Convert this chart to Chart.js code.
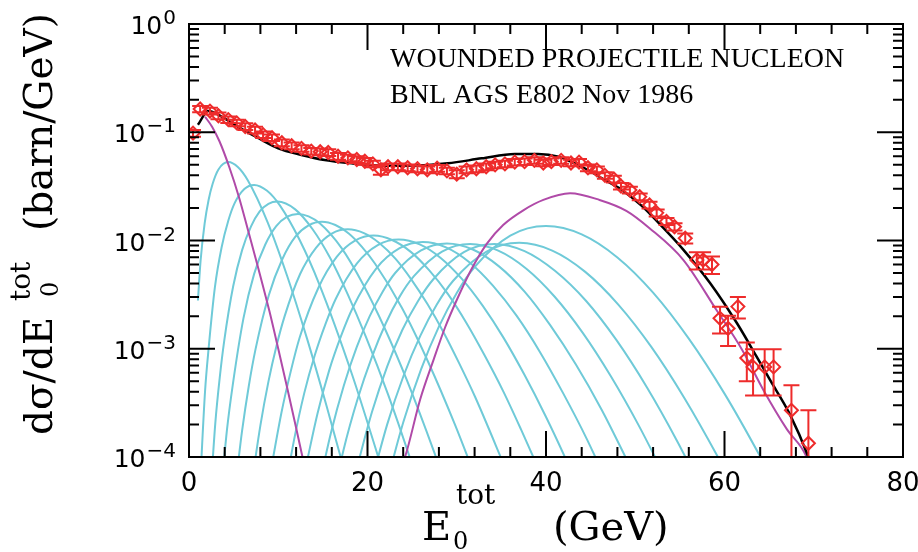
<!DOCTYPE html>
<html>
<head>
<meta charset="utf-8">
<script src="https://cdn.jsdelivr.net/npm/chart.js@4.4.1/dist/chart.umd.min.js"></script>
<style>
  html, body { margin: 0; padding: 0; background: #fff; }
</style>
</head>
<body>
<canvas id="chart" width="918" height="552"></canvas>
<script>
// measured points (E0 in GeV, dsigma/dE in barn/GeV)
const dataE = [0.45, 1.25, 2.35, 3.3, 4.4, 5.35, 6.3, 7.4, 8.3, 9.3, 10.4, 11.5, 12.6, 13.7, 14.7, 15.6, 16.7, 17.8, 18.8, 19.7,
  20.6, 21.5, 22.3, 23.4, 24.5, 25.6, 26.7, 27.8, 28.9, 30.0, 31.1, 32.2, 33.3, 34.3, 35.4, 36.5, 37.6, 38.7, 39.7, 40.6,
  41.7, 42.8, 43.7, 44.7, 45.7, 46.6, 47.6, 48.4, 49.4, 50.5, 51.6, 52.4, 53.5, 54.4, 55.6, 56.9, 57.6, 58.6, 59.5, 60.4,
  61.5, 62.5, 63.2, 64.5, 65.5, 67.5, 69.4];
const dataY = [0.098, 0.164, 0.157, 0.142, 0.131, 0.122, 0.113, 0.105, 0.095, 0.089, 0.080, 0.075, 0.071, 0.067, 0.066, 0.065, 0.060, 0.058, 0.056, 0.054,
  0.051, 0.045, 0.048, 0.048, 0.047, 0.046, 0.045, 0.0465, 0.044, 0.041, 0.045, 0.046, 0.048, 0.050, 0.051, 0.053, 0.0535, 0.055, 0.052, 0.0535,
  0.055, 0.052, 0.053, 0.047, 0.045, 0.040, 0.037, 0.0318, 0.0293, 0.0254, 0.0213, 0.0180, 0.0150, 0.0134, 0.0105, 0.0066, 0.0066, 0.0060, 0.00191, 0.00154,
  0.00245, 0.00082, 0.00068, 0.00068, 0.00068, 0.00027, 0.000134];
const dataErr = [0.007, 0.011, 0.011, 0.010, 0.009, 0.0085, 0.008, 0.0074, 0.0067, 0.0062, 0.0056, 0.0053, 0.005, 0.0047, 0.0046, 0.0046, 0.0042, 0.0041, 0.0039, 0.0038,
  0.0036, 0.0045, 0.0034, 0.0034, 0.0033, 0.0032, 0.0032, 0.0033, 0.0031, 0.0035, 0.0032, 0.0032, 0.0034, 0.0035, 0.0036, 0.0037, 0.0037, 0.0039, 0.0036, 0.0037,
  0.0039, 0.0036, 0.0037, 0.0033, 0.0032, 0.0028, 0.0026, 0.0022, 0.0021, 0.0018, 0.0015, 0.0013, 0.0011, 0.0010, 0.0011, 0.0012, 0.0012, 0.0011, 0.00053, 0.00048,
  0.00055, 0.00032, 0.00031, 0.00031, 0.00031, 0.00019, 0.000136];

// total fit (black)
const totE = [1.0, 2.15, 3.7, 5.5, 7.8, 10.0, 12.6, 15.2, 18.2, 22.0, 25.5, 29.0, 32.8, 36.5, 39.1, 41.4, 44.0, 46.6, 48.5, 50.7,
  52.8, 55.4, 58.4, 61.4, 63.6, 65.1, 67.3, 69.4, 69.8];
const totY = [0.117, 0.157, 0.139, 0.112, 0.088, 0.071, 0.0617, 0.0554, 0.0516, 0.0491, 0.0493, 0.0516, 0.0574, 0.063, 0.063, 0.0594, 0.048, 0.0362, 0.0293, 0.0210,
  0.0140, 0.0082, 0.00403, 0.00172, 8.45e-4, 5.15e-4, 2.5e-4, 1.0e-4, 8e-5];

// magenta components
const m1E = [1.8, 2.6, 3.4, 4.5, 5.6, 6.7, 7.8, 9.0, 10.0, 11.0, 12.0, 13.0];
const m1Y = [0.139, 0.112, 0.083, 0.048, 0.0251, 0.0117, 0.0054, 0.00224, 0.00100, 4.37e-4, 1.86e-4, 7.8e-5];
const m2E = [23.5, 24.2, 25.9, 27.4, 28.7, 30.0, 31.5, 33.4, 35.2, 37.5, 39.7, 42.7, 46.0, 49.0, 51.6, 55.4, 59.1, 62.0, 64.4, 67.0, 69.2, 69.8];
const m2Y = [7.5e-5, 1.0e-4, 3.4e-4, 7.9e-4, 1.58e-3, 2.82e-3, 5.15e-3, 9.4e-3, 1.39e-2, 1.91e-2, 2.37e-2, 2.73e-2, 2.37e-2, 1.88e-2, 1.30e-2, 6.6e-3, 2.28e-3, 9.7e-4, 4.1e-4, 1.8e-4, 1.0e-4, 7e-5];

// cyan components, one per number of wounded nucleons
const c1E = [1.0, 1.3, 1.75, 2.2, 2.65, 3.3, 4.4, 5.5, 6.6, 8.8, 11.0, 13.2, 15.4, 17.6];
const c1Y = [2.79e-3, 6.53e-3, 1.43e-2, 2.38e-2, 3.34e-2, 4.53e-2, 5.30e-2, 4.74e-2, 3.58e-2, 1.48e-2, 4.70e-3, 1.26e-3, 2.99e-4, 6.52e-5];
const c2E = [1.3, 1.8, 2.2, 2.9, 3.65, 4.4, 5.1, 6.2, 7.3, 8.75, 10.2, 12.4, 14.6, 18.25, 21.9];
const c2Y = [6.87e-5, 4.07e-4, 1.01e-3, 3.69e-3, 8.61e-3, 1.52e-2, 2.20e-2, 2.99e-2, 3.26e-2, 2.88e-2, 2.10e-2, 1.01e-2, 3.94e-3, 5.85e-4, 6.56e-5];
const c3E = [2.5, 2.95, 3.45, 3.95, 4.95, 5.95, 6.95, 7.9, 8.9, 9.9, 11.9, 13.85, 15.85, 17.8, 19.8, 22.3, 24.75, 27.2];
const c3Y = [6.0e-5, 2.07e-4, 5.47e-4, 1.19e-3, 3.78e-3, 8.15e-3, 1.35e-2, 1.85e-2, 2.18e-2, 2.29e-2, 1.94e-2, 1.27e-2, 6.81e-3, 3.16e-3, 1.30e-3, 3.79e-4, 9.84e-5, 2.32e-5];
const c4E = [3.65, 4.25, 4.9, 6.1, 7.3, 8.55, 9.75, 11.0, 12.2, 13.4, 14.65, 17.1, 19.5, 21.95, 24.4, 27.45, 30.5];
const c4Y = [5.33e-5, 1.77e-4, 4.62e-4, 1.91e-3, 4.92e-3, 9.18e-3, 1.35e-2, 1.66e-2, 1.76e-2, 1.67e-2, 1.44e-2, 8.49e-3, 3.94e-3, 1.53e-3, 5.15e-4, 1.12e-4, 2.13e-5];
const c5E = [5.2, 5.95, 6.7, 7.45, 8.95, 10.45, 11.9, 13.4, 14.9, 16.4, 17.9, 19.35, 20.85, 23.85, 26.8, 29.8, 32.8];
const c5Y = [5.4e-5, 1.75e-4, 4.53e-4, 9.86e-4, 3.14e-3, 6.71e-3, 1.08e-2, 1.38e-2, 1.49e-2, 1.39e-2, 1.16e-2, 8.78e-3, 6.10e-3, 2.39e-3, 7.55e-4, 1.99e-4, 4.58e-5];
const c6E = [7.1, 8.0, 8.9, 9.8, 10.7, 12.45, 14.25, 16.0, 17.8, 19.6, 21.35, 23.15, 24.9, 26.7, 28.5, 30.25, 32.05, 35.6];
const c6Y = [6.27e-5, 1.96e-4, 4.97e-4, 1.06e-3, 1.98e-3, 4.90e-3, 8.61e-3, 1.16e-2, 1.27e-2, 1.17e-2, 9.44e-3, 6.76e-3, 4.38e-3, 2.60e-3, 1.43e-3, 7.4e-4, 3.60e-4, 7.35e-5];
const c7E = [9.3, 10.35, 11.4, 12.4, 14.5, 16.55, 18.6, 20.7, 22.75, 24.85, 26.9, 29.0, 31.05, 33.1, 35.2, 37.25, 39.35];
const c7Y = [8.65e-5, 2.55e-4, 6.18e-4, 1.27e-3, 3.66e-3, 7.06e-3, 9.98e-3, 1.11e-2, 1.01e-2, 7.85e-3, 5.32e-3, 3.21e-3, 1.75e-3, 8.75e-4, 4.06e-4, 1.76e-4, 7.18e-5];
const c8E = [10.6, 11.75, 12.9, 14.1, 15.3, 16.45, 18.8, 21.15, 23.5, 25.85, 28.2, 30.55, 32.9, 35.25, 37.6, 39.95, 42.3, 44.65];
const c8Y = [4.13e-5, 1.41e-4, 3.85e-4, 8.75e-4, 1.70e-3, 2.90e-3, 6.12e-3, 9.06e-3, 1.02e-2, 9.20e-3, 6.90e-3, 4.44e-3, 2.50e-3, 1.26e-3, 5.71e-4, 2.39e-4, 9.25e-5, 3.34e-5];
const c9E = [13.1, 14.4, 15.7, 17.05, 18.35, 20.95, 23.6, 26.2, 28.8, 31.45, 34.05, 36.7, 39.3, 41.9, 44.55, 47.15];
const c9Y = [8.2e-5, 2.52e-4, 6.28e-4, 1.32e-3, 2.39e-3, 5.48e-3, 8.49e-3, 9.70e-3, 8.65e-3, 6.27e-3, 3.83e-3, 2.02e-3, 9.40e-4, 3.91e-4, 1.48e-4, 5.12e-5];
const c10E = [14.45, 15.9, 17.35, 18.8, 20.25, 21.7, 23.1, 26.0, 28.9, 31.8, 34.7, 37.6, 40.45, 43.35, 46.25, 49.1, 50.6];
const c10Y = [4.86e-5, 1.67e-4, 4.58e-4, 1.04e-3, 2.00e-3, 3.37e-3, 5.01e-3, 8.11e-3, 9.40e-3, 8.26e-3, 5.80e-3, 3.37e-3, 1.66e-3, 7.14e-4, 2.72e-4, 9.27e-5, 5.24e-5];
const c11E = [15.75, 17.3, 18.9, 20.5, 22.05, 23.6, 25.2, 28.35, 31.5, 34.65, 37.8, 40.95, 44.1, 47.25, 50.4, 53.55];
const c11Y = [2.99e-5, 1.15e-4, 3.45e-4, 8.41e-4, 1.72e-3, 3.03e-3, 4.68e-3, 7.91e-3, 9.29e-3, 8.07e-3, 5.49e-3, 3.04e-3, 1.41e-3, 5.60e-4, 1.95e-4, 6.05e-5];
const c12E = [18.8, 20.5, 22.2, 23.9, 25.65, 27.4, 30.8, 34.2, 37.6, 41.0, 44.5, 47.9, 51.3, 54.7, 58.1];
const c12Y = [7.9e-5, 2.60e-4, 6.85e-4, 1.49e-3, 2.75e-3, 4.41e-3, 7.80e-3, 9.29e-3, 7.98e-3, 5.25e-3, 2.76e-3, 1.20e-3, 4.41e-4, 1.40e-4, 3.93e-5];
const c13E = [20.35, 22.2, 24.05, 25.9, 27.75, 29.6, 33.3, 37.0, 40.7, 44.4, 48.1, 51.8, 55.5, 59.2, 61.05];
const c13Y = [5.47e-5, 1.99e-4, 5.66e-4, 1.31e-3, 2.55e-3, 4.25e-3, 7.87e-3, 9.51e-3, 8.07e-3, 5.13e-3, 2.56e-3, 1.04e-3, 3.51e-4, 1.02e-4, 5.2e-5];
const c14E = [22.0, 24.0, 26.0, 28.0, 30.0, 32.0, 36.0, 40.0, 44.0, 48.0, 52.0, 56.0, 60.0, 64.0, 66.0];
const c14Y = [5.15e-5, 2.08e-4, 6.46e-4, 1.60e-3, 3.28e-3, 5.69e-3, 1.11e-2, 1.36e-2, 1.14e-2, 6.98e-3, 3.30e-3, 1.24e-3, 3.85e-4, 1.01e-4, 4.89e-5];

const xTickLabels = [0, 20, 40, 60, 80];
const yTickExps = [0, -1, -2, -3, -4];

const RED = '#ee2b2b';
const CYAN = '#6fcad8';
const MAGENTA = '#b04aa8';

function pts(xs, ys) {
  return xs.map((x, i) => ({ x: x, y: ys[i] }));
}

function curve(xs, ys, color, width) {
  return {
    data: pts(xs, ys),
    borderColor: color,
    borderWidth: width || 2,
    pointRadius: 0,
    fill: false,
    cubicInterpolationMode: 'monotone'
  };
}

const cyanSets = [
  [c1E, c1Y], [c2E, c2Y], [c3E, c3Y], [c4E, c4Y], [c5E, c5Y], [c6E, c6Y], [c7E, c7Y],
  [c8E, c8Y], [c9E, c9Y], [c10E, c10Y], [c11E, c11Y], [c12E, c12Y], [c13E, c13Y], [c14E, c14Y]
];

const datasets = [
  {
    data: pts(dataE, dataY),
    showLine: false,
    pointStyle: 'rectRot',
    pointRadius: 6.5,
    pointBorderWidth: 2,
    pointBorderColor: RED,
    pointBackgroundColor: 'rgba(0,0,0,0)'
  },
  curve(totE, totY, '#000', 2.5),
  curve(m1E, m1Y, MAGENTA),
  curve(m2E, m2Y, MAGENTA)
];
cyanSets.forEach(c => datasets.push(curve(c[0], c[1], CYAN)));

// error bars with caps
const errorBars = {
  id: 'errorBars',
  afterDatasetsDraw(chart) {
    const ctx = chart.ctx;
    const area = chart.chartArea;
    const xs = chart.scales.x, ys = chart.scales.y;
    ctx.save();
    ctx.beginPath();
    ctx.rect(area.left, area.top, area.right - area.left, area.bottom - area.top);
    ctx.clip();
    ctx.strokeStyle = RED;
    ctx.lineWidth = 2;
    ctx.beginPath();
    dataE.forEach((e, i) => {
      const px = xs.getPixelForValue(e);
      const hi = ys.getPixelForValue(dataY[i] + dataErr[i]);
      const lo = ys.getPixelForValue(Math.max(dataY[i] - dataErr[i], 1e-6));
      ctx.moveTo(px, hi); ctx.lineTo(px, lo);
      ctx.moveTo(px - 8, hi); ctx.lineTo(px + 8, hi);
      ctx.moveTo(px - 8, lo); ctx.lineTo(px + 8, lo);
    });
    ctx.stroke();
    ctx.restore();
  }
};

// frame, inward ticks and all text
const frame = {
  id: 'frame',
  afterDraw(chart) {
    const ctx = chart.ctx;
    const a = chart.chartArea;
    const xs = chart.scales.x, ys = chart.scales.y;
    ctx.save();
    ctx.strokeStyle = '#000';
    ctx.lineWidth = 2;
    ctx.strokeRect(a.left, a.top, a.right - a.left, a.bottom - a.top);

    ctx.beginPath();
    for (let v = 0; v <= 80; v += 4) {
      const p = xs.getPixelForValue(v);
      const len = v % 20 === 0 ? 26 : 10;
      ctx.moveTo(p, a.bottom); ctx.lineTo(p, a.bottom - len);
      ctx.moveTo(p, a.top); ctx.lineTo(p, a.top + len);
    }
    for (let e = -4; e <= 0; e++) {
      for (let m = 1; m <= 9; m++) {
        const v = m * Math.pow(10, e);
        if (v > 1) break;
        const p = ys.getPixelForValue(v);
        const len = m === 1 ? 26 : 10;
        ctx.moveTo(a.left, p); ctx.lineTo(a.left + len, p);
        ctx.moveTo(a.right, p); ctx.lineTo(a.right - len, p);
      }
    }
    ctx.stroke();

    ctx.fillStyle = '#000';
    ctx.textBaseline = 'alphabetic';
    // x tick labels
    ctx.font = '26px "DejaVu Sans"';
    ctx.textAlign = 'center';
    xTickLabels.forEach(v => {
      ctx.fillText(String(v), xs.getPixelForValue(v), a.bottom + 34);
    });
    // y tick labels 10^n
    ctx.textAlign = 'left';
    yTickExps.forEach(n => {
      const p = ys.getPixelForValue(Math.pow(10, n));
      const expStr = n === 0 ? '0' : '\u2212' + Math.abs(n);
      ctx.font = '20px "DejaVu Sans"';
      const we = ctx.measureText(expStr).width;
      ctx.font = '25px "DejaVu Sans"';
      const wb = ctx.measureText('10').width;
      const right = 176;
      ctx.fillText('10', right - we - wb - 1, p + 10);
      ctx.font = '20px "DejaVu Sans"';
      ctx.fillText(expStr, right - we, p);
    });

    // x axis title
    ctx.font = '40px "DejaVu Serif"';
    ctx.fillText('E', 422, 540);
    ctx.font = '24px "DejaVu Serif"';
    ctx.fillText('0', 453, 549);
    ctx.font = '28px "DejaVu Serif"';
    ctx.fillText('tot', 456, 504);
    ctx.font = '40px "DejaVu Serif"';
    ctx.fillText('(GeV)', 553, 540);

    // y axis title, read bottom to top
    ctx.save();
    ctx.translate(52, 435);
    ctx.rotate(-Math.PI / 2);
    ctx.font = '39px "DejaVu Serif"';
    ctx.fillText('d\u03C3/dE', 0, 0);
    ctx.font = '24px "DejaVu Serif"';
    ctx.fillText('0', 138, 6);
    ctx.font = '28px "DejaVu Serif"';
    ctx.fillText('tot', 134, -22);
    ctx.font = '39px "DejaVu Serif"';
    ctx.fillText('(barn/GeV)', 204, 0);
    ctx.restore();

    // annotation
    ctx.font = '28px "Liberation Serif"';
    ctx.fillText('WOUNDED PROJECTILE NUCLEON', 390, 67);
    ctx.fillText('BNL AGS E802 Nov 1986', 390, 103);
    ctx.restore();
  }
};

new Chart(document.getElementById('chart'), {
  type: 'line',
  data: { datasets: datasets },
  options: {
    responsive: false,
    animation: false,
    devicePixelRatio: 1,
    layout: { padding: { left: 189, right: 15, top: 24, bottom: 95 } },
    plugins: { legend: { display: false }, tooltip: { enabled: false } },
    scales: {
      x: { type: 'linear', min: 0, max: 80, display: false },
      y: { type: 'logarithmic', min: 1e-4, max: 1, display: false }
    }
  },
  plugins: [errorBars, frame]
});
</script>
</body>
</html>
